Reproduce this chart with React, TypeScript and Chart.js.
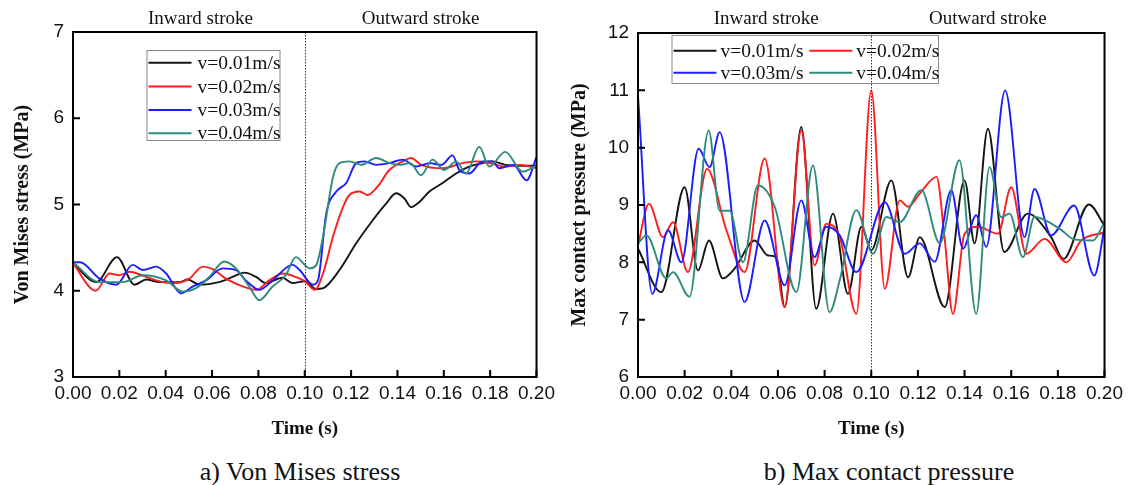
import React, { useEffect, useRef } from "react";
import { Chart, registerables } from "chart.js";

Chart.register(...registerables);

// ---------- data ----------
const SPEED_LABELS = ["v=0.01m/s", "v=0.02m/s", "v=0.03m/s", "v=0.04m/s"];
const STROKE_LABELS = ["Inward stroke", "Outward stroke"];
const STROKE_LABEL_TIMES = [0.055, 0.15];
const STROKE_SWITCH_TIME = 0.1;
const TIME_MIN = 0;
const TIME_MAX = 0.2;
const TIME_STEP = 0.02;
const VM_MIN = 3;
const VM_MAX = 7;
const CP_MIN = 6;
const CP_MAX = 12;
const VM_TITLE = "Von Mises stress (MPa)";
const CP_TITLE = "Max contact pressure (MPa)";
const X_TITLE = "Time (s)";
const CAPTIONS = ["a) Von Mises stress", "b) Max contact pressure"];

// a) Von Mises stress (MPa)
const vmT1 = [0, 0.01, 0.019, 0.0265, 0.0316, 0.0373, 0.046, 0.0495, 0.0545, 0.063, 0.0689, 0.0739, 0.079, 0.0832, 0.0904, 0.0947, 0.1, 0.105, 0.108, 0.115, 0.1222, 0.1294, 0.1351, 0.1394, 0.143, 0.1459, 0.1495, 0.1538, 0.1595, 0.1653, 0.171, 0.1767, 0.181, 0.1865, 0.193, 0.2];
const vmV1 = [4.32, 4.10, 4.39, 4.07, 4.13, 4.10, 4.10, 4.13, 4.07, 4.10, 4.16, 4.21, 4.16, 4.09, 4.15, 4.09, 4.11, 4.02, 4.03, 4.24, 4.55, 4.82, 5.01, 5.13, 5.07, 4.97, 5.03, 5.15, 5.25, 5.36, 5.44, 5.48, 5.50, 5.46, 5.45, 5.45];

const vmT2 = [0, 0.0098, 0.0158, 0.02, 0.0244, 0.0316, 0.0387, 0.0445, 0.0502, 0.056, 0.0603, 0.066, 0.0732, 0.079, 0.0847, 0.0904, 0.0961, 0.1005, 0.1043, 0.1079, 0.1122, 0.1165, 0.1193, 0.1236, 0.1272, 0.1315, 0.1365, 0.1423, 0.1459, 0.1502, 0.1595, 0.1681, 0.1739, 0.1796, 0.1865, 0.193, 0.2];
const vmV2 = [4.32, 4.00, 4.20, 4.18, 4.22, 4.16, 4.10, 4.09, 4.14, 4.28, 4.25, 4.14, 4.05, 4.01, 4.12, 4.20, 4.16, 4.10, 4.01, 4.20, 4.63, 4.97, 5.11, 5.15, 5.11, 5.21, 5.40, 5.50, 5.54, 5.46, 5.42, 5.48, 5.50, 5.48, 5.44, 5.46, 5.42];

const vmT3 = [0, 0.003, 0.0115, 0.0187, 0.0258, 0.0301, 0.0359, 0.0402, 0.0466, 0.0517, 0.0574, 0.0646, 0.0703, 0.0746, 0.0804, 0.0861, 0.0947, 0.0978, 0.1035, 0.1057, 0.1093, 0.1136, 0.1179, 0.1222, 0.1258, 0.1308, 0.1365, 0.1423, 0.148, 0.1538, 0.159, 0.1638, 0.1667, 0.171, 0.1767, 0.181, 0.1839, 0.19, 0.1957, 0.2];
const vmV3 = [4.33, 4.33, 4.14, 4.07, 4.30, 4.24, 4.28, 4.20, 3.97, 4.05, 4.12, 4.26, 4.24, 4.12, 4.01, 4.12, 4.30, 4.24, 4.07, 4.12, 4.90, 5.15, 5.25, 5.48, 5.50, 5.46, 5.48, 5.52, 5.44, 5.48, 5.46, 5.57, 5.40, 5.36, 5.50, 5.50, 5.42, 5.46, 5.28, 5.55];

const vmT4 = [0, 0.0115, 0.0215, 0.0301, 0.0402, 0.0474, 0.0531, 0.0588, 0.0653, 0.0703, 0.076, 0.0804, 0.0861, 0.0918, 0.0961, 0.1021, 0.105, 0.1079, 0.1122, 0.115, 0.1193, 0.1244, 0.1308, 0.1365, 0.1409, 0.1455, 0.1502, 0.1552, 0.1602, 0.1653, 0.1696, 0.1753, 0.1796, 0.1865, 0.194, 0.2];
const vmV4 = [4.33, 4.10, 4.10, 4.18, 4.12, 3.99, 4.03, 4.16, 4.34, 4.26, 4.05, 3.89, 4.05, 4.18, 4.39, 4.26, 4.30, 4.63, 5.32, 5.48, 5.50, 5.46, 5.54, 5.48, 5.46, 5.48, 5.34, 5.52, 5.40, 5.50, 5.36, 5.67, 5.44, 5.61, 5.38, 5.45];

// b) Max contact pressure (MPa)
const cpT1 = [0, 0.01, 0.02, 0.0257, 0.0304, 0.0364, 0.0414, 0.05, 0.0557, 0.0593, 0.0629, 0.07, 0.0764, 0.0836, 0.09, 0.0958, 0.1, 0.1086, 0.1158, 0.1208, 0.1315, 0.14, 0.1443, 0.15, 0.157, 0.1671, 0.1771, 0.1824, 0.1933, 0.2];
const cpV1 = [8.24, 7.48, 9.31, 7.86, 8.38, 7.72, 7.89, 8.38, 8.12, 8.09, 7.22, 10.36, 7.19, 8.85, 7.45, 8.62, 8.21, 9.43, 7.74, 8.44, 7.22, 9.43, 8.33, 10.33, 8.18, 8.85, 8.44, 8.06, 9.01, 8.64];

const cpT2 = [0, 0.0047, 0.0107, 0.015, 0.0214, 0.0296, 0.0379, 0.0457, 0.0543, 0.0629, 0.07, 0.0757, 0.0807, 0.0865, 0.0936, 0.1, 0.1058, 0.1122, 0.1158, 0.1208, 0.128, 0.1314, 0.135, 0.14, 0.1457, 0.1543, 0.16, 0.1664, 0.1743, 0.1837, 0.19, 0.2];
const cpV2 = [8.30, 9.02, 8.44, 8.70, 7.83, 9.63, 8.56, 7.83, 9.81, 7.22, 10.30, 7.95, 8.67, 8.44, 7.10, 11.0, 7.54, 9.08, 8.97, 9.20, 9.49, 8.44, 7.10, 8.50, 8.62, 8.50, 9.31, 8.15, 8.41, 8.0, 8.38, 8.52];

const cpT3 = [0, 0.0061, 0.0129, 0.0186, 0.026, 0.0307, 0.035, 0.0457, 0.0543, 0.0629, 0.07, 0.0757, 0.0807, 0.0865, 0.0936, 0.1058, 0.1144, 0.1208, 0.1272, 0.1343, 0.1393, 0.145, 0.1493, 0.1574, 0.1657, 0.17, 0.1771, 0.187, 0.1956, 0.2];
const cpV3 = [10.9, 7.45, 8.56, 8.0, 9.98, 9.66, 10.27, 7.31, 8.73, 7.60, 9.08, 8.09, 8.62, 8.47, 7.83, 9.05, 8.15, 8.33, 8.01, 9.26, 8.24, 8.82, 8.27, 11.0, 8.44, 9.28, 8.47, 8.99, 7.77, 8.6];

const cpT4 = [0, 0.0036, 0.0121, 0.015, 0.0221, 0.0303, 0.035, 0.0393, 0.045, 0.0514, 0.0586, 0.0679, 0.075, 0.0821, 0.0865, 0.0936, 0.1008, 0.1065, 0.1122, 0.1215, 0.1294, 0.1378, 0.145, 0.1507, 0.1557, 0.1593, 0.165, 0.17, 0.181, 0.187, 0.195, 0.2];
const cpV4 = [8.33, 8.47, 7.72, 7.83, 7.40, 10.30, 8.9, 8.9, 8.0, 9.34, 8.97, 7.48, 9.69, 7.13, 7.69, 8.91, 8.15, 8.79, 8.70, 9.26, 8.33, 9.78, 7.10, 9.66, 8.79, 8.85, 8.09, 8.79, 8.58, 8.4, 8.38, 8.7];

// ---------- styles ----------
const COLORS = ["#141414", "#ff1c1c", "#1c1cff", "#2e8b7e"];
const SERIF = '"Liberation Serif", "Times New Roman", serif';
const SANS = '"Liberation Sans", Arial, sans-serif';
const H = 445;
const PLOT_TOP = 32;
const PLOT_BOTTOM = 377;

type Series = { t: number[]; v: number[] };
type LegendItem = { x: number; y: number };
type Geo = {
  left: number;
  width: number;
  axisW: number;
  padR: number;
  top: number;
  yTitlePad: number;
  legendBox: { x: number; y: number; w: number; h: number };
  legendItems: LegendItem[];
  lineLen: number;
  textOff: number;
};

const framePlugin = {
  id: "frame",
  afterDraw(chart: any, _args: any, opts: any) {
    const { ctx, chartArea: a, scales } = chart;
    const xs = scales.x;
    const ys = scales.y;
    const g: Geo = opts.geo;
    ctx.save();

    // legend
    const b = g.legendBox;
    ctx.fillStyle = "#ffffff";
    ctx.fillRect(b.x, b.y, b.w, b.h);
    ctx.strokeStyle = "#8a8a8a";
    ctx.lineWidth = 1;
    ctx.strokeRect(b.x + 0.5, b.y + 0.5, b.w, b.h);
    ctx.font = `19.5px ${SERIF}`;
    ctx.textAlign = "left";
    ctx.textBaseline = "middle";
    chart.data.datasets.forEach((ds: any, i: number) => {
      const it = g.legendItems[i];
      ctx.strokeStyle = ds.borderColor;
      ctx.lineWidth = 2;
      ctx.beginPath();
      ctx.moveTo(it.x, it.y);
      ctx.lineTo(it.x + g.lineLen, it.y);
      ctx.stroke();
      ctx.fillStyle = "#111";
      ctx.fillText(ds.label, it.x + g.textOff, it.y + 1);
    });

    // dotted divider between strokes
    const xd = Math.round(xs.getPixelForValue(STROKE_SWITCH_TIME)) + 0.5;
    ctx.strokeStyle = "#333";
    ctx.lineWidth = 1;
    ctx.setLineDash([1.5, 1.5]);
    ctx.beginPath();
    ctx.moveTo(xd, a.top);
    ctx.lineTo(xd, a.bottom);
    ctx.stroke();
    ctx.setLineDash([]);

    // frame
    ctx.strokeStyle = "#000";
    ctx.lineWidth = 2;
    ctx.strokeRect(a.left, a.top, a.right - a.left, a.bottom - a.top);

    // inward ticks
    ctx.beginPath();
    xs.ticks.forEach((t: any) => {
      const px = xs.getPixelForValue(t.value);
      ctx.moveTo(px, a.bottom);
      ctx.lineTo(px, a.bottom - 7);
    });
    ys.ticks.forEach((t: any) => {
      const py = ys.getPixelForValue(t.value);
      ctx.moveTo(a.left, py);
      ctx.lineTo(a.left + 7, py);
    });
    ctx.stroke();

    // stroke labels above plot
    ctx.font = `19px ${SERIF}`;
    ctx.fillStyle = "#111";
    ctx.textAlign = "center";
    ctx.textBaseline = "middle";
    STROKE_LABELS.forEach((s, i) => {
      ctx.fillText(s, xs.getPixelForValue(STROKE_LABEL_TIMES[i]), 19);
    });
    ctx.restore();
  },
};

function Panel(props: { series: Series[]; yMin: number; yMax: number; yTitle: string; geo: Geo }) {
  const ref = useRef<HTMLCanvasElement>(null);
  const g = props.geo;
  useEffect(() => {
    const chart = new Chart(ref.current as HTMLCanvasElement, {
      type: "line",
      data: {
        datasets: props.series.map((s, i) => ({
          label: SPEED_LABELS[i],
          data: s.t.map((t, j) => ({ x: t, y: s.v[j] })),
          borderColor: COLORS[i],
          backgroundColor: COLORS[i],
          borderWidth: 1.9,
          pointRadius: 0,
          cubicInterpolationMode: "monotone",
          fill: false,
          order: 4 - i,
        })),
      } as any,
      options: {
        animation: false,
        responsive: false,
        maintainAspectRatio: false,
        layout: { padding: { top: g.top, right: g.padR, left: 0, bottom: 0 } },
        plugins: {
          legend: { display: false },
          tooltip: { enabled: false },
          frame: { geo: g },
        } as any,
        scales: {
          x: {
            type: "linear",
            min: TIME_MIN,
            max: TIME_MAX,
            grid: { display: false, drawTicks: false },
            border: { display: false },
            ticks: {
              stepSize: TIME_STEP,
              autoSkip: false,
              maxRotation: 0,
              padding: 5,
              color: "#111",
              font: { family: SANS, size: 19 },
              callback: (v: any) => Number(v).toFixed(2),
            },
            title: {
              display: true,
              text: X_TITLE,
              color: "#111",
              font: { family: SERIF, size: 19, weight: "bold" },
              padding: { top: 0, bottom: 5 },
            },
            afterFit: (s: any) => {
              s.height = H - PLOT_BOTTOM;
            },
          },
          y: {
            type: "linear",
            min: props.yMin,
            max: props.yMax,
            grid: { display: false, drawTicks: false },
            border: { display: false },
            ticks: {
              stepSize: 1,
              padding: 9,
              color: "#111",
              font: { family: SANS, size: 19 },
            },
            title: {
              display: true,
              text: props.yTitle,
              color: "#111",
              font: { family: SERIF, size: 20, weight: "bold" },
              padding: { top: g.yTitlePad, bottom: 0 },
            },
            afterFit: (s: any) => {
              s.width = g.axisW;
            },
          },
        } as any,
      },
      plugins: [framePlugin as any],
    });
    return () => chart.destroy();
  }, []);
  return (
    <canvas
      ref={ref}
      width={g.width}
      height={H}
      style={{ position: "absolute", left: g.left, top: 0, width: g.width, height: H }}
    />
  );
}

const GEO_A: Geo = {
  left: 0,
  width: 560,
  axisW: 73,
  padR: 23,
  top: PLOT_TOP,
  yTitlePad: 11,
  legendBox: { x: 146.5, y: 50, w: 133, h: 90 },
  legendItems: [
    { x: 148.5, y: 62.7 },
    { x: 148.5, y: 86.5 },
    { x: 148.5, y: 110 },
    { x: 148.5, y: 133.3 },
  ],
  lineLen: 43,
  textOff: 49,
};

const GEO_B: Geo = {
  left: 560,
  width: 568,
  axisW: 78,
  padR: 23,
  top: PLOT_TOP + 1,
  yTitlePad: 8,
  legendBox: { x: 111.5, y: 35, w: 266.5, h: 48 },
  legendItems: [
    { x: 113.5, y: 50.7 },
    { x: 249.3, y: 50.7 },
    { x: 113.5, y: 72.7 },
    { x: 249.3, y: 72.7 },
  ],
  lineLen: 43,
  textOff: 47,
};

export default function App() {
  const vmSeries: Series[] = [
    { t: vmT1, v: vmV1 },
    { t: vmT2, v: vmV2 },
    { t: vmT3, v: vmV3 },
    { t: vmT4, v: vmV4 },
  ];
  const cpSeries: Series[] = [
    { t: cpT1, v: cpV1 },
    { t: cpT2, v: cpV2 },
    { t: cpT3, v: cpV3 },
    { t: cpT4, v: cpV4 },
  ];
  const capStyle: React.CSSProperties = {
    position: "absolute",
    top: 472,
    transform: "translate(-50%, -50%)",
    fontFamily: SERIF,
    fontSize: 26,
    lineHeight: "30px",
    color: "#111",
    whiteSpace: "nowrap",
  };
  return (
    <div style={{ position: "fixed", left: 0, top: 0, width: 1128, height: 485, background: "#fff", overflow: "hidden" }}>
      <Panel series={vmSeries} yMin={VM_MIN} yMax={VM_MAX} yTitle={VM_TITLE} geo={GEO_A} />
      <Panel series={cpSeries} yMin={CP_MIN} yMax={CP_MAX} yTitle={CP_TITLE} geo={GEO_B} />
      <div style={{ ...capStyle, left: 300 }}>{CAPTIONS[0]}</div>
      <div style={{ ...capStyle, left: 889 }}>{CAPTIONS[1]}</div>
    </div>
  );
}
